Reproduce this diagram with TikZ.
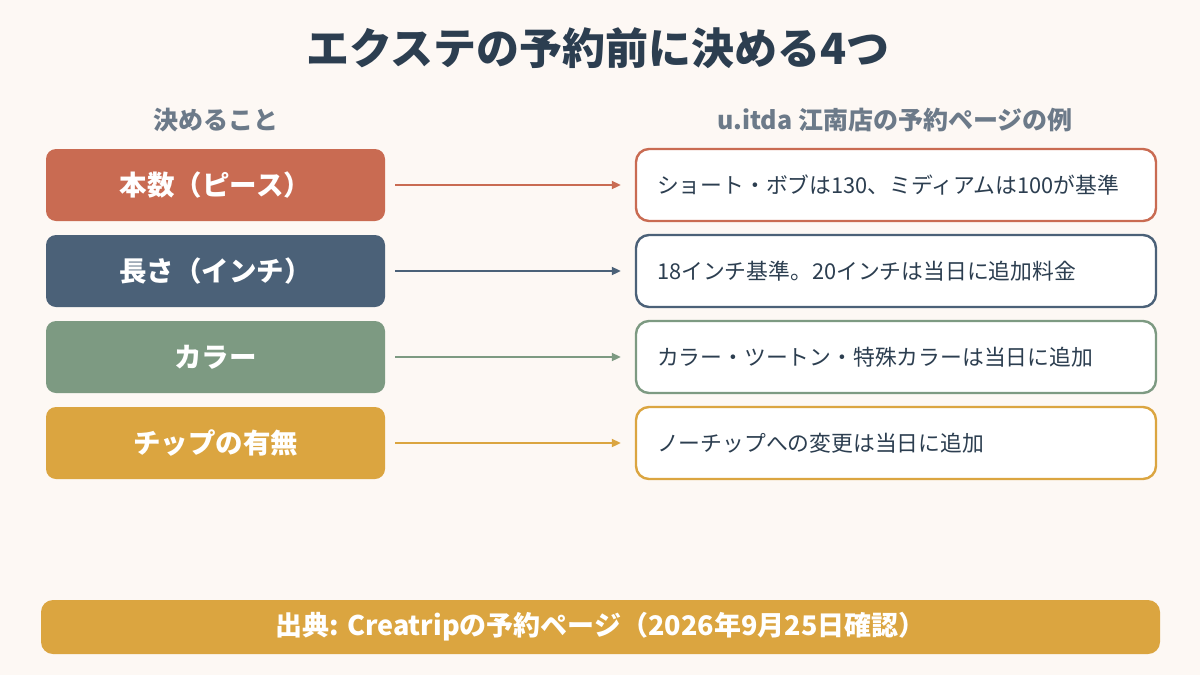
\documentclass[tikz,border=0pt]{standalone}
\usepackage{fontspec}
\setmainfont{Noto Sans CJK JP}
\usepackage{xcolor}
\usetikzlibrary{arrows.meta}

\definecolor{pagebg}{HTML}{FDF8F4}
\definecolor{inkdark}{HTML}{2C3E50}
\definecolor{inkgray}{HTML}{6C7A89}
\definecolor{cterra}{HTML}{C96B52}
\definecolor{cslate}{HTML}{4B6178}
\definecolor{csage}{HTML}{7D9A82}
\definecolor{cmustard}{HTML}{DBA540}

\tikzset{
  itembox/.style={rounded corners=10pt,fill=#1,minimum width=339pt,minimum height=72pt,
    inner sep=0pt,text=white,font=\fontsize{27.5}{32}\selectfont\bfseries},
  notebox/.style={rounded corners=13pt,draw=#1,line width=2.4pt,fill=white,
    minimum height=72pt,text width=478pt,inner xsep=21pt,inner ysep=0pt,align=left,
    text=inkdark,font=\fontsize{21.8}{26}\selectfont},
  headtext/.style={text=inkgray,font=\fontsize{25}{30}\selectfont\bfseries},
  linkarrow/.style={-{Triangle[length=9pt,width=8pt]},draw=#1,line width=2pt,
    shorten <=10pt,shorten >=14pt}
}

\begin{document}
\begin{tikzpicture}[x=1pt,y=-1pt]
  \fill[pagebg] (0,0) rectangle (1200,675);
  \useasboundingbox (0,0) rectangle (1200,675);

  % title and column heads
  \node[text=inkdark,font=\fontsize{43}{50}\selectfont\bfseries] (title) at (598,48) {エクステの予約前に決める4つ};
  \node[headtext] (headL) at (215.5,120) {決めること};
  \node[headtext] (headR) at (895,120) {u.itda 江南店の予約ページの例};

  % left column
  \node[itembox=cterra] (k1) at (215.5,185) {本数（ピース）};
  \node[itembox=cslate] (k2) at (215.5,271) {長さ（インチ）};
  \node[itembox=csage] (k3) at (215.5,357) {カラー};
  \node[itembox=cmustard] (k4) at (215.5,443) {チップの有無};

  % right column
  \node[notebox=cterra] (n1) at (896,185) {ショート・ボブは130、ミディアムは100が基準};
  \node[notebox=cslate] (n2) at (896,271) {18インチ基準。20インチは当日に追加料金};
  \node[notebox=csage] (n3) at (896,357) {カラー・ツートン・特殊カラーは当日に追加};
  \node[notebox=cmustard] (n4) at (896,443) {ノーチップへの変更は当日に追加};

  \draw[linkarrow=cterra] (k1) -- (n1);
  \draw[linkarrow=cslate] (k2) -- (n2);
  \draw[linkarrow=csage] (k3) -- (n3);
  \draw[linkarrow=cmustard] (k4) -- (n4);

  % source line
  \node[rounded corners=12pt,fill=cmustard,minimum width=1119pt,minimum height=54pt,inner sep=0pt,
    text=white,font=\fontsize{27}{32}\selectfont\bfseries] (src) at (600.5,627) {出典: Creatripの予約ページ（2026年9月25日確認）};
\end{tikzpicture}
\end{document}
